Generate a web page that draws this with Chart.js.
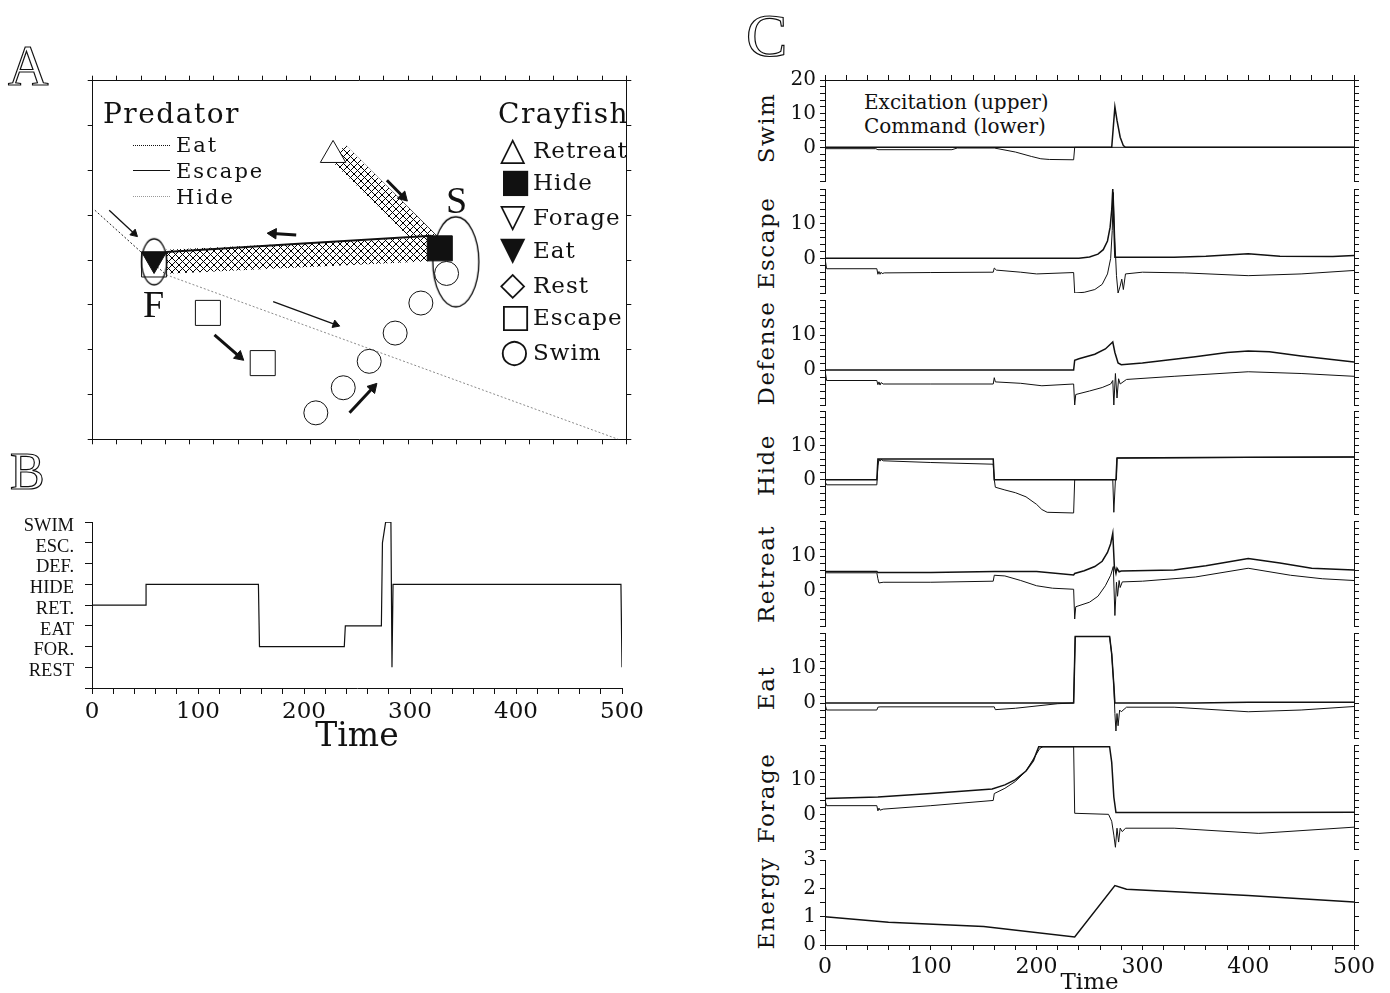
<!DOCTYPE html>
<html>
<head>
<meta charset="utf-8">
<title>Crayfish behaviour model</title>
<script src="https://cdn.jsdelivr.net/npm/chart.js@4.4.1/dist/chart.umd.min.js"></script>
<style>
  body { margin: 0; background: #fff; }
  #fig { position: relative; width: 1390px; height: 993px; overflow: hidden; background: #fff;
         font-family: 'DejaVu Serif', serif; color: #111; }
  #fig canvas { position: absolute; }
  .t { position: absolute; white-space: nowrap; line-height: 1; }
  .panel { font-family: 'Liberation Serif', serif; color: #fff; -webkit-text-stroke: 1.2px #111; }
  .yt { position: absolute; white-space: nowrap; line-height: 1; font-size: 23px; letter-spacing: 1.5px;
        transform: translate(-50%, -50%) rotate(-90deg); }
  .sw { position: absolute; width: 37px; height: 0; }
  .mk { position: absolute; font-family: 'DejaVu Sans', sans-serif; font-size: 33px; line-height: 1; }
  .li { position: absolute; white-space: nowrap; line-height: 1; font-size: 23px; letter-spacing: 1px; }
</style>
</head>
<body>
<div id="fig">
  <canvas id="chartA" width="571" height="396" style="left:74px;top:62px"></canvas>
  <canvas id="chartB" width="660" height="254" style="left:0;top:500px"></canvas>

  <div class="t panel" style="left:8px;top:38px;font-size:56px">A</div>
  <div class="t panel" style="left:10px;top:446px;font-size:52px">B</div>
  <div class="t panel" style="left:746px;top:4px;font-size:62px">C</div>

  <div class="t" style="left:103px;top:100px;font-size:28px;letter-spacing:1.5px">Predator</div>
  <div class="sw" style="left:133px;top:145px;border-top:1.5px dotted #111"></div>
  <div class="t" style="left:176px;top:135px;font-size:21px;letter-spacing:2px">Eat</div>
  <div class="sw" style="left:133px;top:170px;border-top:1px solid #111"></div>
  <div class="t" style="left:176px;top:161px;font-size:21px;letter-spacing:2px">Escape</div>
  <div class="sw" style="left:133px;top:196px;border-top:1.5px dotted #999"></div>
  <div class="t" style="left:176px;top:187px;font-size:21px;letter-spacing:2px">Hide</div>

  <div class="t" style="left:498px;top:100px;font-size:28px;letter-spacing:1.5px">Crayfish</div>
  <div class="mk" style="left:500px;top:132px">△</div><div class="li" style="left:533px;top:139px">Retreat</div>
  <div class="mk" style="left:500px;top:164px">■</div><div class="li" style="left:533px;top:171px">Hide</div>
  <div class="mk" style="left:500px;top:199px">▽</div><div class="li" style="left:533px;top:206px">Forage</div>
  <div class="mk" style="left:500px;top:232px">▼</div><div class="li" style="left:533px;top:239px">Eat</div>
  <div class="mk" style="left:500px;top:267px">◇</div><div class="li" style="left:533px;top:274px">Rest</div>
  <div class="mk" style="left:500px;top:299px">□</div><div class="li" style="left:533px;top:306px">Escape</div>
  <div class="mk" style="left:500px;top:334px">○</div><div class="li" style="left:533px;top:341px">Swim</div>

  <div class="t" style="left:143px;top:285px;font-size:38px;font-family:'Liberation Serif',serif">F</div>
  <div class="t" style="left:446px;top:181px;font-size:38px;font-family:'Liberation Serif',serif">S</div>

  <div class="t" style="left:864px;top:92px;font-size:20px">Excitation (upper)</div>
  <div class="t" style="left:864px;top:116px;font-size:20px">Command (lower)</div>

  <div class="yt" style="left:766px;top:128px">Swim</div>
  <div class="yt" style="left:766px;top:243px">Escape</div>
  <div class="yt" style="left:766px;top:353px">Defense</div>
  <div class="yt" style="left:766px;top:465px">Hide</div>
  <div class="yt" style="left:766px;top:574px">Retreat</div>
  <div class="yt" style="left:766px;top:688px">Eat</div>
  <div class="yt" style="left:766px;top:798px">Forage</div>
  <div class="yt" style="left:766px;top:903px">Energy</div>
</div>
<script>
// ---------- panel A: positions in map units (x 0..22, y 0..8) ----------
var predEat = [[0.09, 5.11], [3.03, 3.67]];
var predHide = [[3.03, 3.67], [21.67, 0]];
var predEscape = [[13.97, 4.54], [8.5, 4.36], [3.03, 4.18]];
var retreatPath = [[10.12, 6.4], [14.02, 4.31]];
var foragePath = [[13.9, 4.24], [3.03, 3.96]];
var retreatMarks = [[9.91, 6.34]];
var hideMarks = [[14.31, 4.26]];
var eatMarks = [[2.53, 4.02]];
var escapeMarks = [[2.53, 3.9], [4.75, 2.82], [7.01, 1.7]];
var swimMarks = [[9.2, 0.59], [10.33, 1.15], [11.4, 1.74], [12.47, 2.37], [13.53, 3.04], [14.59, 3.7]];
var sites = [[2.53, 3.96], [14.97, 3.96]];          // F and S
var arrowFrom = [[0.68, 5.11], [8.39, 4.56], [12.13, 5.78], [7.44, 3.07], [5.02, 2.33], [10.59, 0.59]];
var arrowTo   = [[1.71, 4.59], [7.44, 4.59], [12.8, 5.41], [10.01, 2.56], [6.04, 1.85], [11.55, 1.15]];
var arrowThick = [false, true, true, false, true, true];

// ---------- panel B: behaviour state over time ----------
var stateNames = ['REST', 'FOR.', 'EAT', 'RET.', 'HIDE', 'DEF.', 'ESC.', 'SWIM'];
var behaviorT =     [0, 51, 51, 157, 158, 238, 239, 273, 274, 277, 282, 283, 284, 499, 500];
var behaviorState = [3, 3, 4, 4, 1, 1, 2, 2, 6, 7, 7, 0, 4, 4, 0];

// ---------- panel C: [time, value] ----------
var swimExc = [[0, 0], [271, 0], [272.5, 6], [274, 12], [276, 8], [279, 3], [282, 0.5], [284, 0], [500, 0]];
var swimCmd = [[0, -0.4], [48, -0.4], [50, -0.7], [120, -0.7], [125, -0.2], [160, -0.2], [180, -1.4],
  [195, -2.7], [204, -3.4], [212, -3.6], [235, -3.7], [236, 0], [500, 0]];

var escExc = [[0, 0], [240, 0], [250, 0.4], [258, 1.2], [263, 2.5], [267, 5], [269.5, 9], [271, 14], [272, 20],
  [273, 10], [274, 0.3], [330, 0.3], [360, 0.6], [400, 1.3], [430, 0.6], [480, 0.5], [500, 0.8]];
var escCmd = [[0, 0], [1.5, -3], [49, -3], [50, -4.6], [51, -3.8], [52, -4.6], [53, -4], [54, -4.4], [56, -4.2],
  [100, -4.1], [159, -4], [160, -2.8], [162, -3.4], [185, -4], [200, -4.5], [235, -4.1], [236, -10], [245, -9.8],
  [255, -9], [262, -7.5], [267, -4.5], [270, 0], [271.5, 8], [272.5, 19], [274, 5], [275.5, -5], [277, -10],
  [279, -8], [280.5, -6], [282, -9], [284, -4.5], [300, -4], [340, -4.2], [400, -5], [450, -4.5], [500, -3.5]];

var defExc = [[0, 0], [235, 0], [236, 2.8], [240, 3.2], [255, 4.5], [265, 6], [272, 8], [274, 5], [277, 2],
  [280, 1.5], [300, 2], [350, 3.8], [380, 5], [400, 5.4], [420, 5.2], [450, 4], [500, 2.3]];
var defCmd = [[0, 0], [1.5, -3], [49, -3], [50, -4.2], [51, -3.4], [52, -4.3], [53, -3.6], [55, -4], [100, -4],
  [159, -4], [160, -2.2], [161, -3.4], [185, -3.8], [205, -4.5], [235, -4], [236, -10], [237, -7], [250, -6],
  [262, -5], [270, -4], [272, -3], [273, -10], [274.5, -1], [276, -8], [277.5, -2.5], [279, -4], [285, -2.7],
  [330, -1.8], [400, -0.5], [450, -1], [500, -1.8]];

var hideExc = [[0, 0], [49, 0], [50, 6], [159, 6], [160, 0], [275, 0], [276, 6.3], [400, 6.5], [500, 6.6]];
var hideCmd = [[0, -0.5], [1.5, -1.5], [49, -1.5], [50, 4], [51, 6], [52, 5.4], [53, 5.9], [55, 5.5], [100, 5],
  [159, 4.5], [160, 0], [161, -2.2], [170, -3], [180, -3.8], [190, -5], [200, -7.2], [205, -8.7], [210, -9.5],
  [235, -9.7], [236, 0], [272, 0], [273, -9.5], [274.5, 0], [275.5, 0], [276, 6.3], [500, 6.6]];

var retExc = [[0, 5.6], [49, 5.6], [50, 5.3], [100, 5.3], [160, 5.6], [200, 5.6], [235, 4.6], [236, 5], [245, 5.8],
  [255, 7], [262, 8.5], [267, 11], [270, 13.5], [272, 16.5], [273.5, 7], [275, 5], [276, 6.5], [278, 5.5],
  [280, 5.7], [330, 6], [360, 7.2], [400, 9.3], [430, 8], [460, 6.5], [500, 6]];
var retCmd = [[0, 5.2], [49, 5.2], [50, 3.5], [51, 2.3], [55, 2.5], [100, 2.5], [159, 2.8], [160, 4.5], [170, 4.3],
  [185, 3], [200, 1.5], [215, 0.8], [235, 0.5], [236, -8], [237, -4.5], [250, -3.2], [258, -1.5], [265, 1.5],
  [270, 4.5], [272.5, 7], [274, -7], [275.5, 2.5], [276.5, -1.5], [278, 3], [279, 1], [281, 2.6], [300, 2.8],
  [350, 4], [400, 6.5], [440, 4.5], [470, 3.5], [500, 3]];

var eatExc = [[0, 0], [235, 0], [236.5, 19], [269, 19], [271, 14], [273, 5], [274, 0], [350, 0], [400, 0.2], [500, 0.2]];
var eatCmd = [[0, -0.3], [1.5, -2], [49, -2], [50, -1.2], [52, -1.1], [160, -1.1], [161, -1.9], [180, -1.5],
  [220, -0.2], [235, 0], [236.5, 19], [269, 19], [271, 14], [273, 5], [274, -3], [275, -8], [276, -3],
  [277, -6.5], [278.5, -2], [280, -2.5], [285, -1.2], [330, -1.2], [400, -2.5], [450, -2], [500, -1]];

var forExc = [[0, 4.6], [50, 5], [100, 6], [158, 7.3], [170, 8.5], [180, 10], [190, 12.5], [197, 15.5], [202, 19.5],
  [269, 19.5], [271, 15], [273, 5], [275, 0.5], [400, 0.5], [500, 0.6]];
var forCmd = [[0, 4], [1.5, 2.5], [49, 2.5], [50, 1], [51, 1.8], [52, 1.2], [55, 1.5], [100, 2.5], [159, 4], [160, 6],
  [170, 7.5], [180, 9.5], [190, 12.5], [197, 16], [203, 19], [206, 19.5], [235, 19.5], [236, 0.3], [268, 0],
  [271, -2], [273, -6], [274.5, -9.5], [276, -4], [277.5, -8], [279, -4], [281, -5], [284, -4], [330, -4],
  [410, -5.5], [500, -3.7]];

var energy = [[0, 1], [60, 0.8], [150, 0.65], [236, 0.28], [274, 2.1], [285, 1.97], [400, 1.75], [500, 1.52]];

// ---------- setup ----------
Chart.defaults.font.family = "'DejaVu Serif', serif";
Chart.defaults.color = '#111';
Chart.defaults.animation = false;
Chart.defaults.responsive = false;
Chart.defaults.events = [];
Chart.defaults.plugins.legend.display = false;
Chart.defaults.plugins.tooltip.enabled = false;

function xy(pairs) {
  return pairs.map(function(p) { return {x: p[0], y: p[1]}; });
}

// an axis drawn only as a border with outward tick marks, optional labels
function axis(pos, min, max, step, size, labelFn, fontSize) {
  var a = {
    type: 'linear', display: true, position: pos, min: min, max: max,
    axis: (pos === 'left' || pos === 'right') ? 'y' : 'x',
    grid: {drawOnChartArea: false, drawTicks: true, tickLength: 5, color: '#111'},
    border: {display: true, color: '#111', width: 1},
    ticks: {stepSize: step, autoSkip: false, maxRotation: 0, minRotation: 0, display: !!labelFn, padding: 4},
    afterFit: function(s) {
      if (s.isHorizontal()) s.height = size; else s.width = size;
    }
  };
  if (labelFn) {
    a.ticks.callback = labelFn;
    a.ticks.font = {size: fontSize};
  }
  return a;
}

function addCanvas(id, left, top, w, h) {
  var c = document.createElement('canvas');
  c.id = id;
  c.width = w;
  c.height = h;
  c.style.left = left + 'px';
  c.style.top = top + 'px';
  document.getElementById('fig').appendChild(c);
  return c;
}

// ---------- panel A ----------
var canvasA = document.getElementById('chartA');
var ctxA = canvasA.getContext('2d');

function crossHatch(ctx) {
  var c = document.createElement('canvas');
  c.width = 7; c.height = 7;
  var g = c.getContext('2d');
  g.strokeStyle = '#000';
  g.lineWidth = 1;
  g.beginPath();
  g.moveTo(0, 0); g.lineTo(7, 7);
  g.moveTo(7, 0); g.lineTo(0, 7);
  g.stroke();
  return ctx.createPattern(c, 'repeat');
}

function ellipseStyle(w, h) {
  var c = document.createElement('canvas');
  c.width = w + 4; c.height = h + 4;
  var g = c.getContext('2d');
  g.strokeStyle = '#000';
  g.lineWidth = 1.3;
  g.beginPath();
  g.ellipse(c.width / 2, c.height / 2, w / 2, h / 2, 0, 0, Math.PI * 2);
  g.stroke();
  return c;
}

function arrowAngle(ctx) {
  var d = ctx.dataset.data, sx = ctx.chart.scales.x, sy = ctx.chart.scales.y;
  var dx = sx.getPixelForValue(d[1].x) - sx.getPixelForValue(d[0].x);
  var dy = sy.getPixelForValue(d[1].y) - sy.getPixelForValue(d[0].y);
  return Math.atan2(dx, -dy) * 180 / Math.PI;
}

var hatch = crossHatch(ctxA);
var none = 'rgba(0,0,0,0)';
var dsA = [
  {data: xy(swimMarks), pointStyle: 'circle', pointRadius: 12, pointBackgroundColor: none, pointBorderColor: '#111', pointBorderWidth: 1},
  {data: xy(escapeMarks), pointStyle: 'rect', pointRadius: 17.7, pointBackgroundColor: none, pointBorderColor: '#111', pointBorderWidth: 1},
  {data: xy(eatMarks), pointStyle: 'triangle', pointRotation: 180, pointRadius: 14.4, pointBackgroundColor: '#111', pointBorderColor: '#111'},
  {data: xy(hideMarks), pointStyle: 'rect', pointRadius: 17.7, pointBackgroundColor: '#111', pointBorderColor: '#111'},
  {data: xy(retreatMarks), pointStyle: 'triangle', pointRadius: 14.7, pointBackgroundColor: '#fff', pointBorderColor: '#111', pointBorderWidth: 1},
  {data: xy(sites), pointStyle: [ellipseStyle(25, 46), ellipseStyle(46, 90)], pointRadius: 5}
];
for (var i = 0; i < arrowFrom.length; i++) {
  dsA.push({
    data: xy([arrowFrom[i], arrowTo[i]]), showLine: true, borderColor: '#111',
    borderWidth: arrowThick[i] ? 3 : 1.3,
    pointStyle: 'triangle', pointRadius: [0, arrowThick[i] ? 6 : 4.5], pointRotation: arrowAngle,
    pointBackgroundColor: '#111', pointBorderColor: '#111', pointBorderWidth: 1
  });
}
dsA.push(
  {data: xy(predEscape), showLine: true, borderColor: '#111', borderWidth: 2, pointRadius: 0},
  {data: xy(predEat), showLine: true, borderColor: '#222', borderWidth: 1, borderDash: [2, 2], pointRadius: 0},
  {data: xy(predHide), showLine: true, borderColor: '#8a8a8a', borderWidth: 1, borderDash: [2, 2], pointRadius: 0},
  {data: xy(foragePath), showLine: true, borderColor: hatch, borderWidth: 24, borderCapStyle: 'butt', pointRadius: 0},
  {data: xy(retreatPath), showLine: true, borderColor: hatch, borderWidth: 21, borderCapStyle: 'butt', pointRadius: 0}
);

new Chart(canvasA, {
  type: 'scatter',
  data: {datasets: dsA},
  options: {
    layout: {padding: 10},
    scales: {
      x: axis('bottom', 0, 22, 1, 8),
      x2: axis('top', 0, 22, 1, 8),
      y: axis('left', 0, 8, 1, 8),
      y2: axis('right', 0, 8, 1, 8)
    }
  }
});

// ---------- panel B ----------
var bx = axis('bottom', 0, 500, 20, 66, function(v) { return v % 100 === 0 ? String(v) : ''; }, 23);
bx.grid.tickLength = 6;
bx.title = {display: true, text: 'Time', font: {size: 33, lineHeight: 1}, padding: 0};
var by = axis('left', -1, 7, 1, 92, function(v) { return v >= 0 ? stateNames[v] : ''; }, 18.5);
by.grid.tickLength = 7;
by.ticks.padding = 11;
by.ticks.labelOffset = 4;
by.ticks.font = {size: 18.5, family: "'Liberation Serif', serif"};

new Chart(document.getElementById('chartB'), {
  type: 'scatter',
  data: {datasets: [{
    data: behaviorT.map(function(t, i) { return {x: t, y: behaviorState[i]}; }),
    showLine: true, borderColor: '#111', borderWidth: 1.2, pointRadius: 0
  }]},
  options: {
    layout: {padding: {top: 16, left: 0, right: 38, bottom: 0}},
    scales: {x: bx, y: by}
  }
});

// ---------- panel C ----------
var cPanels = [
  {name: 'Swim', upper: swimExc, lower: swimCmd, top: 80, bottom: 181, range: [-10, 20], step: 2, labels: [0, 10, 20]},
  {name: 'Escape', upper: escExc, lower: escCmd, top: 189, bottom: 293, range: [-10, 20], step: 2, labels: [0, 10]},
  {name: 'Defense', upper: defExc, lower: defCmd, top: 300, bottom: 405, range: [-10, 20], step: 2, labels: [0, 10]},
  {name: 'Hide', upper: hideExc, lower: hideCmd, top: 411, bottom: 514, range: [-10, 20], step: 2, labels: [0, 10]},
  {name: 'Retreat', upper: retExc, lower: retCmd, top: 521, bottom: 626, range: [-10, 20], step: 2, labels: [0, 10]},
  {name: 'Eat', upper: eatExc, lower: eatCmd, top: 633, bottom: 738, range: [-10, 20], step: 2, labels: [0, 10]},
  {name: 'Forage', upper: forExc, lower: forCmd, top: 745, bottom: 849, range: [-10, 20], step: 2, labels: [0, 10]},
  {name: 'Energy', upper: energy, lower: null, top: 860, bottom: 945, range: [0, 3], step: 0.5, labels: [0, 1, 2, 3]}
];

cPanels.forEach(function(p) {
  var isTop = p.name === 'Swim', isBottom = p.name === 'Energy';
  var padTop = 16, xTop = isTop ? 6 : 0;
  var h = padTop + xTop + (p.bottom - p.top) + (isBottom ? 50 : 16);
  var cv = addCanvas('c' + p.name, 740, p.top - padTop - xTop, 640, h);

  var ds = [{data: xy(p.upper), borderWidth: 1.5}];
  if (p.lower) ds.push({data: xy(p.lower), borderWidth: 1});
  ds.forEach(function(d) {
    d.showLine = true; d.borderColor = '#111'; d.pointRadius = 0;
  });

  var x;
  if (isTop) {
    x = axis('top', 0, 500, 20, 6);
  } else if (isBottom) {
    x = axis('bottom', 0, 500, 20, 50, function(v) { return v % 100 === 0 ? String(v) : ''; }, 22);
    x.title = {display: true, text: 'Time', font: {size: 23, lineHeight: 1}, padding: 0};
  } else {
    x = {type: 'linear', min: 0, max: 500, display: false};
  }

  new Chart(cv, {
    type: 'scatter',
    data: {datasets: ds},
    options: {
      layout: {padding: {top: padTop, bottom: isBottom ? 0 : 16, left: 0, right: 0}},
      scales: {
        x: x,
        y: axis('left', p.range[0], p.range[1], p.step, 85,
          function(v) { return p.labels.indexOf(v) >= 0 ? String(v) : ''; }, 20),
        yr: axis('right', p.range[0], p.range[1], p.step, 26)
      }
    }
  });
});
</script>
</body>
</html>
